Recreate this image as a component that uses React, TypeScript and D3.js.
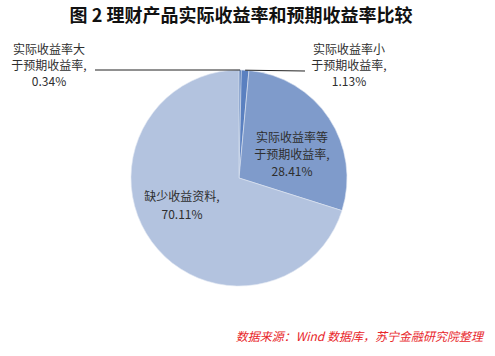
import React from "react";
import * as d3 from "d3";

const categories = ["实际收益率大于预期收益率", "实际收益率小于预期收益率", "实际收益率等于预期收益率", "缺少收益资料"];
const values = [0.34, 1.13, 28.41, 70.11];
const labelLines = [
  ["实际收益率大", "于预期收益率,", "0.34%"],
  ["实际收益率小", "于预期收益率,", "1.13%"],
  ["实际收益率等", "于预期收益率,", "28.41%"],
  ["缺少收益资料,", "70.11%"],
];
const colors = ["#3F6AAE", "#5A80C0", "#7F9BCB", "#B3C3DF"];

const W = 495, H = 356;
const cx = 239, cy = 178, R = 108;
const labelPos = [
  { x: 49, y: 50, dy: 16, leaderX: 95, leaderY: 70 },
  { x: 349, y: 50, dy: 16, leaderX: 305, leaderY: 71 },
  { x: 292, y: 138, dy: 17, leaderX: null, leaderY: null },
  { x: 182, y: 197, dy: 18, leaderX: null, leaderY: null },
];

export default function App() {
  const pie = d3.pie<number>().sort(null).value((d) => d)(values);
  const arc = d3.arc<d3.PieArcDatum<number>>().innerRadius(0).outerRadius(R);
  return (
    <svg width={W} height={H} style={{ position: "absolute", left: 0, top: 0, background: "#fff" }}
      fontFamily="'Noto Sans CJK SC', 'Noto Sans', sans-serif">
      <text x={241} y={22} textAnchor="middle" fontSize={18} fontWeight="bold" fill="#111">
        图 2  理财产品实际收益率和预期收益率比较
      </text>
      <g transform={`translate(${cx},${cy})`}>
        {pie.map((p, i) => (
          <path key={categories[i]} d={arc(p) || ""} fill={colors[i]} stroke="#dfe6f2" strokeWidth={0.6} />
        ))}
      </g>
      {pie.map((p, i) => {
        const lp = labelPos[i];
        if (lp.leaderX == null) return null;
        const a = (p.startAngle + p.endAngle) / 2;
        const px = cx + R * Math.sin(a);
        const py = cy - R * Math.cos(a);
        return <line key={"l" + i} x1={lp.leaderX} y1={lp.leaderY} x2={px} y2={py} stroke="#222" strokeWidth={1} />;
      })}
      {labelLines.map((lines, i) => (
        <text key={"t" + i} textAnchor="middle" fontSize={12} fill="#2e2e2e">
          {lines.map((s, j) => (
            <tspan key={j} x={labelPos[i].x} y={labelPos[i].y + j * labelPos[i].dy + 4}>{s}</tspan>
          ))}
        </text>
      ))}
      <text x={483} y={341} textAnchor="end" fontSize={12} fontStyle="italic" fill="#E8262A">
        数据来源：Wind 数据库，苏宁金融研究院整理
      </text>
    </svg>
  );
}
